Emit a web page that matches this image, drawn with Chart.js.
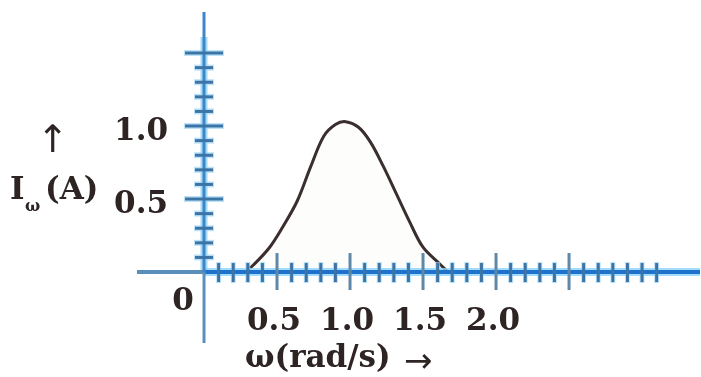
<!DOCTYPE html>
<html><head><meta charset="utf-8">
<script src="https://cdn.jsdelivr.net/npm/chart.js@4.4.1/dist/chart.umd.min.js"></script>
<style>html,body{margin:0;padding:0;background:#fff;} #wrap{width:701px;height:377px;position:relative;}</style>
</head><body><div id="wrap"><canvas id="c" width="701" height="377"></canvas></div>
<script>
// curve I_w (A) vs w (rad/s)
const omega   = [0.28, 0.34, 0.45, 0.54, 0.64, 0.73, 0.82, 0.90, 0.97, 1.06, 1.14, 1.23, 1.32, 1.41, 1.50, 1.62, 1.67];
const current = [0.00, 0.05, 0.17, 0.31, 0.49, 0.72, 0.93, 1.01, 1.03, 0.99, 0.89, 0.72, 0.53, 0.34, 0.17, 0.05, 0.00];

const xTickValues = [0.5, 1.0, 1.5, 2.0];
const xTickLabels = ['0.5', '1.0', '1.5', '2.0'];
const yTickValues = [0.5, 1.0];
const yTickLabels = ['0.5', '1.0'];
const xMajorTicks = [0.5, 1.0, 1.5, 2.0, 2.5];
const xMinorTicks = [0.1,0.2,0.3,0.4,0.6,0.7,0.8,0.9,1.1,1.2,1.3,1.4,1.6,1.7,1.8,1.9,2.1,2.2,2.3,2.4,2.6,2.7,2.8,2.9,3.0,3.1];
const yMajorTicks = [0.5, 1.0, 1.5];
const yMinorTicks = [0.1,0.2,0.3,0.4,0.6,0.7,0.8,0.9,1.1,1.2,1.3,1.4];
const originLabel = '0';
const yTitleMain = 'I';
const yTitleSub = 'ω';
const yTitleUnit = '(A)';
const xTitle = 'ω(rad/s)';

const points = omega.map((w, i) => ({x: w, y: current[i]}));

const axesPlugin = {
  id: 'axesPlugin',
  afterDatasetsDraw(chart) {
    const ctx = chart.ctx;
    const xs = chart.scales.x, ys = chart.scales.y;
    const x0 = xs.getPixelForValue(0), y0 = ys.getPixelForValue(0);
    const L = chart.chartArea.left, R = chart.chartArea.right, T = chart.chartArea.top, B = chart.chartArea.bottom;
    ctx.save();
    ctx.lineCap = 'butt';
    function seg(x1, y1, x2, y2, color, w) {
      ctx.strokeStyle = color; ctx.lineWidth = w;
      ctx.beginPath(); ctx.moveTo(x1, y1); ctx.lineTo(x2, y2); ctx.stroke();
    }
    // halos
    seg(x0, y0, R, y0, 'rgba(140,210,250,0.8)', 8);
    seg(x0, T + 25, x0, y0, 'rgba(140,210,250,0.8)', 7);
    const halo = 'rgba(160,215,245,0.7)';
    yMinorTicks.forEach(v => { const p = ys.getPixelForValue(v); seg(x0 - 10, p, x0 + 10, p, halo, 6); });
    yMajorTicks.forEach(v => { const p = ys.getPixelForValue(v); seg(x0 - 20, p, x0 + 20, p, halo, 6); });
    xMinorTicks.forEach(v => { const p = xs.getPixelForValue(v); seg(p, y0 - 10, p, y0 + 11, halo, 5); });
    // axis lines
    seg(L, y0, x0, y0, '#5a8fba', 4);
    seg(x0, y0, R, y0, '#1f72cc', 4);
    seg(x0, T, x0, y0, '#3f86c8', 3);
    seg(x0, y0, x0, B, '#5a90c0', 3);
    // ticks
    const tc = '#3d74a6';
    yMinorTicks.forEach(v => { const p = ys.getPixelForValue(v); seg(x0 - 9, p, x0 + 9, p, tc, 3); });
    yMajorTicks.forEach(v => { const p = ys.getPixelForValue(v); seg(x0 - 19, p, x0 + 19, p, tc, 3); });
    xMinorTicks.forEach(v => { const p = xs.getPixelForValue(v); seg(p, y0 - 9, p, y0 + 10, tc, 3); });
    xMajorTicks.forEach(v => { const p = xs.getPixelForValue(v); seg(p, y0 - 19, p, y0 + 18, '#5f87a8', 3); });

    // labels
    ctx.fillStyle = '#2e2424';
    ctx.font = 'bold 31px "DejaVu Serif"';
    ctx.textAlign = 'center'; ctx.textBaseline = 'alphabetic';
    xTickValues.forEach((v, i) => ctx.fillText(xTickLabels[i], xs.getPixelForValue(v) - 3, y0 + 58));
    ctx.textAlign = 'right';
    yTickValues.forEach((v, i) => ctx.fillText(yTickLabels[i], x0 - 36, ys.getPixelForValue(v) + 14));
    ctx.textAlign = 'center';
    ctx.fillText(originLabel, x0 - 21, y0 + 38);

    // y title
    ctx.textAlign = 'left';
    ctx.font = 'bold 31px "DejaVu Serif"';
    ctx.fillText(yTitleMain, 10, 199);
    ctx.font = 'bold 16px "DejaVu Serif"';
    ctx.fillText(yTitleSub, 25, 211);
    ctx.font = 'bold 31px "DejaVu Serif"';
    ctx.fillText(yTitleUnit, 45, 199);
    ctx.font = '38px "DejaVu Sans"';
    ctx.textAlign = 'center';
    ctx.fillText('↑', 53, 152);

    // x title
    ctx.textAlign = 'left';
    ctx.font = 'bold 31px "DejaVu Serif"';
    ctx.fillText(xTitle, 245, 367);
    ctx.font = '34px "DejaVu Sans"';
    ctx.fillText('→', 404, 372);
    ctx.restore();
  }
};

new Chart(document.getElementById('c'), {
  type: 'scatter',
  data: { datasets: [{
    data: points,
    showLine: true,
    borderColor: '#3a2e2e',
    borderWidth: 3,
    pointRadius: 0,
    tension: 0.35,
    fill: 'origin',
    backgroundColor: 'rgba(240,240,230,0.12)'
  }]},
  options: {
    responsive: false,
    animation: false,
    devicePixelRatio: 1,
    layout: { padding: { left: 137, right: 1, top: 12, bottom: 34 } },
    plugins: { legend: { display: false }, tooltip: { enabled: false }, title: { display: false } },
    scales: {
      x: { type: 'linear', min: -0.459, max: 3.397, display: false },
      y: { type: 'linear', min: -0.486, max: 1.781, display: false }
    }
  },
  plugins: [axesPlugin]
});
</script>
</body></html>
